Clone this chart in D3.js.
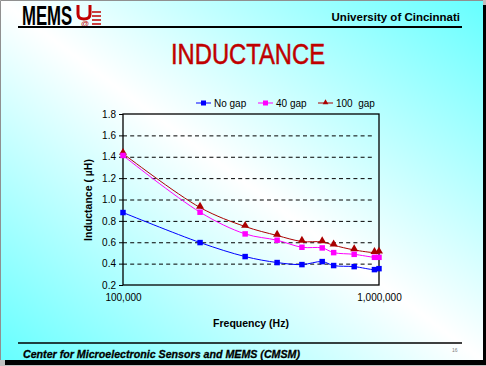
<!DOCTYPE html>
<html><head><meta charset="utf-8">
<script src="https://cdn.jsdelivr.net/npm/d3@7"></script>
<style>
html,body{margin:0;padding:0;background:#c0c0c0;overflow:hidden;}
svg{display:block;}
text{font-family:"Liberation Sans",Arial,sans-serif;}
</style></head>
<body>
<script>
const freqs = [100000, 200000, 300000, 400000, 500000, 600000, 665000, 800000, 960000, 1000000];
const noGap = [0.878, 0.597, 0.466, 0.41, 0.391, 0.419, 0.382, 0.372, 0.344, 0.353];
const gap40 = [1.412, 0.881, 0.678, 0.619, 0.553, 0.547, 0.503, 0.487, 0.459, 0.459];
const gap100 = [1.43, 0.925, 0.747, 0.663, 0.607, 0.603, 0.572, 0.528, 0.503, 0.506];
const seriesNames = ["No gap", "40 gap", "100  gap"];
const yTicks = [0.2, 0.4, 0.6, 0.8, 1.0, 1.2, 1.4, 1.6, 1.8];
const xTicks = [100000, 1000000];

const W = 486, H = 366;
const svg = d3.select("body").append("svg").attr("width", W).attr("height", H);
const defs = svg.append("defs");
const grad = defs.append("linearGradient").attr("id", "bg")
  .attr("x1", 1).attr("y1", 0).attr("x2", 0).attr("y2", 1);
grad.append("stop").attr("offset", 0).attr("stop-color", "#66ffff");
grad.append("stop").attr("offset", 0.5).attr("stop-color", "#ffffff");
grad.append("stop").attr("offset", 1).attr("stop-color", "#66ffff");

// shadow + slide
svg.append("rect").attr("x", 5).attr("y", 5).attr("width", 481).attr("height", 360).attr("fill", "#000");
svg.append("rect").attr("x", 0).attr("y", 0).attr("width", 483).attr("height", 360).attr("fill", "url(#bg)");
svg.append("path").attr("d", "M0.5,360 V0.5 H483").attr("fill", "none").attr("stroke", "#909090").attr("stroke-width", 1);

// header
svg.append("text").attr("transform", "translate(22,25) scale(0.62,1)").attr("font-size", 27).attr("font-weight", "bold")
  .attr("fill", "#000").text("MEMS");
// UC logo
const logo = svg.append("g").attr("fill", "none").attr("stroke", "#c00000");
logo.append("path").attr("d", "M78,5 V14 Q78,19 84,19 Q90,19 90,14 V5").attr("stroke-width", 3);
logo.append("path").attr("d", "M92,12 H101 M92,16 H101 M92,20 H101 M92,24 H101").attr("stroke-width", 1.5);
svg.append("text").attr("x", 85).attr("y", 25.5).attr("font-size", 8).attr("text-anchor", "middle").attr("fill", "#c00000").text("@");
svg.append("text").attr("x", 460).attr("y", 21).attr("font-size", 11.5).attr("font-weight", "bold").attr("text-anchor", "end")
  .attr("fill", "#000").text("University of Cincinnati");
svg.append("line").attr("x1", 18).attr("x2", 462).attr("y1", 27).attr("y2", 27).attr("stroke", "#000").attr("stroke-width", 2);

// title
svg.append("text").attr("transform", "translate(171,64) scale(0.82,1)").attr("font-size", 29)
  .attr("fill", "#c00000").attr("stroke", "#c00000").attr("stroke-width", 0.5).text("INDUCTANCE");

// footer
svg.append("line").attr("x1", 18).attr("x2", 462).attr("y1", 343).attr("y2", 343).attr("stroke", "#000").attr("stroke-width", 1.5);
svg.append("text").attr("x", 23).attr("y", 358).attr("font-size", 11.5).attr("font-weight", "bold").attr("font-style", "italic")
  .attr("textLength", 277).attr("lengthAdjust", "spacingAndGlyphs").attr("fill", "#000")
  .attr("stroke", "#000").attr("stroke-width", 0.3).text("Center for Microelectronic Sensors and MEMS (CMSM)");
svg.append("text").attr("x", 452).attr("y", 352).attr("font-size", 5).attr("fill", "#808080").text("16");

// chart
const L = 123, R = 379, T = 114, B = 285;
const x = d3.scaleLog().domain([100000, 1000000]).range([L, R]);
const y = d3.scaleLinear().domain([0.2, 1.8]).range([B, T]);

const g = svg.append("g");
// grid
g.append("g").attr("transform", `translate(${L},0)`)
  .call(d3.axisLeft(y).tickValues(yTicks.slice(1, -1)).tickSize(-(R - L - 4)).tickFormat(""))
  .call(s => s.select(".domain").remove())
  .call(s => s.selectAll("line").attr("stroke", "#000").attr("stroke-dasharray", "4,3.2"));

// border
g.append("rect").attr("x", L).attr("y", T).attr("width", R - L).attr("height", B - T)
  .attr("fill", "none").attr("stroke", "#000").attr("stroke-width", 1.3);

// y axis
const ya = g.append("g").attr("transform", `translate(${L},0)`)
  .call(d3.axisLeft(y).tickValues(yTicks).tickSize(4).tickPadding(3).tickFormat(d3.format(".1f")));
ya.select(".domain").remove();
ya.selectAll("line").attr("stroke", "#000");
ya.selectAll("text").attr("font-size", 10).attr("fill", "#000").style("font-family", "Liberation Sans, Arial, sans-serif");

// x axis
const xa = g.append("g").attr("transform", `translate(0,${B})`)
  .call(d3.axisBottom(x).tickValues(xTicks).tickSize(0).tickPadding(9).tickFormat(d3.format(",")));
xa.select(".domain").remove();
xa.selectAll("text").attr("font-size", 10).attr("fill", "#000").style("font-family", "Liberation Sans, Arial, sans-serif");

// axis titles
svg.append("text").attr("x", 251).attr("y", 327).attr("font-size", 10.5).attr("font-weight", "bold")
  .attr("text-anchor", "middle").attr("fill", "#000").text("Frequency (Hz)");
svg.append("text").attr("transform", "translate(92,200) rotate(-90)").attr("font-size", 10.5).attr("font-weight", "bold")
  .attr("text-anchor", "middle").attr("fill", "#000").text("Inductance ( µH)");

// series
const series = [
  {name: seriesNames[0], vals: noGap, color: "#0000ff", marker: "square"},
  {name: seriesNames[1], vals: gap40, color: "#ff00ff", marker: "square"},
  {name: seriesNames[2], vals: gap100, color: "#aa0000", marker: "triangle"}
];
const line = d3.line().x((d, i) => x(freqs[i])).y(d => y(d)).curve(d3.curveCatmullRom.alpha(0.5));
const symSq = d3.symbol().type(d3.symbolSquare).size(30);
const symTr = d3.symbol().type(d3.symbolTriangle).size(28);

[series[2], series[1], series[0]].forEach(s => {
  g.append("path").attr("d", line(s.vals)).attr("fill", "none").attr("stroke", s.color).attr("stroke-width", 1);
});
[series[2], series[1], series[0]].forEach(s => {
  g.selectAll(null).data(s.vals).enter().append("path")
    .attr("transform", (d, i) => `translate(${x(freqs[i])},${y(d) - (s.marker === "triangle" ? 1 : 0)})`)
    .attr("d", s.marker === "square" ? symSq : symTr)
    .attr("fill", s.color);
});

// legend
const legX = [196, 258, 318];
const lg = svg.append("g");
series.forEach((s, i) => {
  const lx = legX[i];
  lg.append("line").attr("x1", lx).attr("x2", lx + 15).attr("y1", 103).attr("y2", 103).attr("stroke", s.color).attr("stroke-width", 1);
  lg.append("path").attr("transform", `translate(${lx + 7.5},${103 - (s.marker === "triangle" ? 0.5 : 0)})`)
    .attr("d", s.marker === "square" ? d3.symbol().type(d3.symbolSquare).size(25)() : d3.symbol().type(d3.symbolTriangle).size(14)())
    .attr("fill", s.color);
  lg.append("text").attr("x", lx + 18).attr("y", 107).attr("font-size", 10).attr("fill", "#000").text(s.name)
    .attr("xml:space", "preserve").style("white-space", "pre");
});
</script>
</body></html>
